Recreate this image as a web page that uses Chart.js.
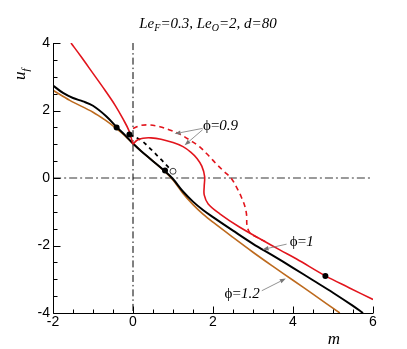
<!DOCTYPE html>
<html>
<head>
<meta charset="utf-8">
<script src="https://cdn.jsdelivr.net/npm/chart.js@4.4.1/dist/chart.umd.min.js"></script>
<style>
  html, body { margin: 0; padding: 0; background: #fff; }
</style>
</head>
<body>
<canvas id="chart" width="407" height="349"></canvas>
<script>
// axis ranges and ticks
const xRange = [-2, 6];
const yRange = [-4, 4];
const majorStep = 2;
const minorStep = 0.5;

// curves as [m, u_f]
const redUpper = [[-1.55, 4.0], [-1.3, 3.6], [-1.0, 3.1], [-0.7, 2.6], [-0.45, 2.16], [-0.25, 1.75], [-0.1, 1.4], [0, 1.0]];
const redLower = [[0, 1.0], [0.1, 1.12], [0.25, 1.18], [0.45, 1.19], [0.7, 1.15], [1.0, 1.05], [1.25, 0.93], [1.45, 0.76],
  [1.6, 0.58], [1.72, 0.35], [1.79, 0.05], [1.78, -0.25], [1.78, -0.5], [1.88, -0.77], [2.17, -1.06], [2.67, -1.46],
  [3.25, -1.85], [3.67, -2.13], [4.09, -2.4], [4.81, -2.9], [5.4, -3.25], [6.0, -3.6]];
const redDashed = [[0, 1.47], [0.2, 1.56], [0.43, 1.57], [0.67, 1.52], [0.9, 1.43], [1.17, 1.3], [1.45, 1.1], [1.67, 0.92],
  [1.9, 0.65], [2.08, 0.42], [2.27, 0.2], [2.45, 0.0], [2.6, -0.3], [2.71, -0.57], [2.8, -0.85], [2.84, -1.1],
  [2.85, -1.4], [2.92, -1.62], [3.1, -1.76], [3.3, -1.88]];
const blackSolid = [[-2, 2.74], [-1.75, 2.52], [-1.5, 2.37], [-1.25, 2.27], [-1.0, 2.14], [-0.67, 1.83], [-0.41, 1.51],
  [-0.2, 1.27], [0, 1.02], [0.2, 0.8], [0.45, 0.55], [0.8, 0.2], [1.0, -0.03], [1.25, -0.4], [1.5, -0.7],
  [1.75, -0.95], [2.0, -1.16], [2.5, -1.56], [3.0, -1.95], [3.5, -2.3], [4.0, -2.66], [4.5, -3.03], [5.0, -3.4],
  [5.5, -3.79], [5.75, -4.0]];
const blackDashed = [[-0.09, 1.29], [0.2, 1.12], [0.45, 0.85], [0.7, 0.55], [0.9, 0.3], [1.0, 0.2]];
const orangeSolid = [[-2, 2.6], [-1.58, 2.3], [-1.0, 1.95], [-0.7, 1.72], [-0.42, 1.47], [-0.2, 1.25], [0, 1.02], [0.2, 0.8],
  [0.45, 0.55], [0.8, 0.19], [1.0, -0.06], [1.25, -0.46], [1.5, -0.79], [1.75, -1.07], [2.0, -1.31], [2.5, -1.76],
  [3.0, -2.2], [3.5, -2.62], [4.0, -3.03], [4.5, -3.44], [5.17, -4.0]];

// point markers
const filledDots = [[-0.41, 1.5], [-0.09, 1.29], [0.8, 0.22], [4.81, -2.9]];
const openDots = [[1.0, 0.2]];

// dash-dot reference lines
const vRefLine = [[0, 4], [0, -4]];
const hRefLine = [[-2, 0], [6, 0]];

// labels on the curves: text, position of label (left, middle), arrows [from, to]
const labels = [
  { value: '0.9', at: [1.75, 1.56], arrows: [[[1.74, 1.47], [1.04, 1.31]], [[1.74, 1.43], [1.29, 0.97]]] },
  { value: '1', at: [3.92, -1.88], arrows: [[[3.84, -1.96], [3.24, -2.12]]] },
  { value: '1.2', at: [2.29, -3.41], arrows: [[[3.22, -3.34], [3.82, -2.98]]] }
];

const RED = '#e2141c';
const ORANGE = '#bd6a1e';

const pts = arr => arr.map(([x, y]) => ({ x, y }));

function line(data, color, width, dash, order) {
  return {
    data: pts(data), showLine: true, borderColor: color, borderWidth: width,
    borderDash: dash || [], pointRadius: 0, tension: 0.35, fill: false, order
  };
}

// draws a run of text pieces with different fonts / offsets
function drawRich(ctx, parts, x, y, align) {
  let total = 0;
  parts.forEach(p => { ctx.font = p.font; total += ctx.measureText(p.t).width; });
  let cx = align === 'center' ? x - total / 2 : x;
  ctx.textAlign = 'left';
  parts.forEach(p => {
    ctx.font = p.font;
    ctx.fillText(p.t, cx, y + (p.dy || 0));
    cx += ctx.measureText(p.t).width;
  });
}

function arrow(ctx, x1, y1, x2, y2) {
  const ang = Math.atan2(y2 - y1, x2 - x1);
  const len = 6, half = 2.2;
  ctx.beginPath();
  ctx.moveTo(x1, y1);
  ctx.lineTo(x2 - len * Math.cos(ang), y2 - len * Math.sin(ang));
  ctx.stroke();
  ctx.beginPath();
  ctx.moveTo(x2, y2);
  ctx.lineTo(x2 - len * Math.cos(ang) + half * Math.sin(ang), y2 - len * Math.sin(ang) - half * Math.cos(ang));
  ctx.lineTo(x2 - len * Math.cos(ang) - half * Math.sin(ang), y2 - len * Math.sin(ang) + half * Math.cos(ang));
  ctx.closePath();
  ctx.fill();
}

const SERIF = '"Liberation Serif", "DejaVu Serif", serif';

const decor = {
  id: 'decor',
  afterDraw(chart) {
    const { ctx, chartArea: a, scales: { x, y } } = chart;
    ctx.save();

    // axes with inward ticks
    ctx.strokeStyle = '#000';
    ctx.lineWidth = 1;
    ctx.beginPath();
    const left = Math.round(a.left) + 0.5, bottom = Math.round(a.bottom) + 0.5;
    ctx.moveTo(left, a.top);
    ctx.lineTo(left, bottom);
    ctx.lineTo(a.right, bottom);
    for (let v = xRange[0]; v <= xRange[1] + 1e-9; v += minorStep) {
      const px = Math.round(x.getPixelForValue(v)) + 0.5;
      const len = Math.abs(v % majorStep) < 1e-9 ? 7 : 4;
      ctx.moveTo(px, bottom);
      ctx.lineTo(px, bottom - len);
    }
    for (let v = yRange[0]; v <= yRange[1] + 1e-9; v += minorStep) {
      const py = Math.round(y.getPixelForValue(v)) + 0.5;
      const len = Math.abs(v % majorStep) < 1e-9 ? 7 : 4;
      ctx.moveTo(left, py);
      ctx.lineTo(left + len, py);
    }
    ctx.stroke();

    ctx.fillStyle = '#000';
    ctx.textBaseline = 'alphabetic';

    // title
    const it15 = 'italic 15px ' + SERIF, it10 = 'italic 10px ' + SERIF;
    drawRich(ctx, [
      { t: 'Le', font: it15 }, { t: 'F', font: it10, dy: 3 }, { t: '=0.3, Le', font: it15 },
      { t: 'O', font: it10, dy: 3 }, { t: '=2, d=80', font: it15 }
    ], 208, 28, 'center');

    // axis titles
    ctx.font = 'italic 17px ' + SERIF;
    ctx.textAlign = 'center';
    ctx.fillText('m', 334, 344);
    ctx.save();
    ctx.translate(25, 80);
    ctx.rotate(-Math.PI / 2);
    drawRich(ctx, [{ t: 'u', font: 'italic 17px ' + SERIF }, { t: 'f', font: 'italic 11px ' + SERIF, dy: 4 }], 0, 0, 'left');
    ctx.restore();

    // curve labels with arrows
    ctx.strokeStyle = '#777';
    ctx.fillStyle = '#777';
    ctx.lineWidth = 0.8;
    labels.forEach(l => {
      l.arrows.forEach(([f, t]) => arrow(ctx, x.getPixelForValue(f[0]), y.getPixelForValue(f[1]),
        x.getPixelForValue(t[0]), y.getPixelForValue(t[1])));
    });
    ctx.fillStyle = '#000';
    labels.forEach(l => {
      drawRich(ctx, [
        { t: '\u03D5=', font: '15px ' + SERIF }, { t: l.value, font: 'italic 15px ' + SERIF }
      ], x.getPixelForValue(l.at[0]), y.getPixelForValue(l.at[1]) + 5, 'left');
    });

    ctx.restore();
  }
};

new Chart(document.getElementById('chart'), {
  type: 'scatter',
  data: {
    datasets: [
      line(vRefLine, '#000', 1, [7, 3, 1.5, 3], 10),
      line(hRefLine, '#7a7a7a', 1.3, [8, 3, 2, 3], 10),
      line(orangeSolid, ORANGE, 1.6, null, 6),
      line(blackSolid, '#000', 2, null, 5),
      line(blackDashed, '#000', 1.8, [4, 4], 5),
      line(redDashed, RED, 1.6, [5, 4], 4),
      line(redUpper, RED, 1.6, null, 3),
      line(redLower, RED, 1.6, null, 3),
      { data: pts(filledDots), showLine: false, pointRadius: 3, pointBackgroundColor: '#000', pointBorderColor: '#000', pointBorderWidth: 0, order: 0 },
      { data: pts(openDots), showLine: false, pointRadius: 3, pointBackgroundColor: '#fff', pointBorderColor: '#444', pointBorderWidth: 1, order: 0 }
    ]
  },
  options: {
    responsive: false,
    animation: false,
    devicePixelRatio: 1,
    layout: { padding: { top: 43, right: 34, left: 0, bottom: 0 } },
    plugins: { legend: { display: false }, tooltip: { enabled: false } },
    scales: {
      x: {
        type: 'linear', min: xRange[0], max: xRange[1],
        grid: { display: false, drawTicks: false }, border: { display: false },
        ticks: { stepSize: majorStep, padding: 1, color: '#000', font: { family: '"Liberation Sans", Arial, sans-serif', size: 14 } },
        afterFit: s => { s.height = 36; }
      },
      y: {
        type: 'linear', min: yRange[0], max: yRange[1],
        grid: { display: false, drawTicks: false }, border: { display: false },
        ticks: { stepSize: majorStep, padding: 3, color: '#000', font: { family: '"Liberation Sans", Arial, sans-serif', size: 14 } },
        afterFit: s => { s.width = 53; }
      }
    }
  },
  plugins: [decor]
});
</script>
</body>
</html>
